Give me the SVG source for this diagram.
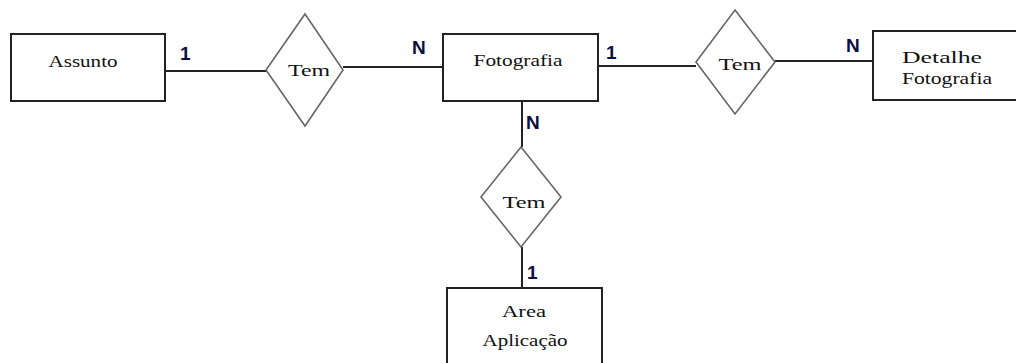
<svg xmlns="http://www.w3.org/2000/svg" width="1016" height="363" viewBox="0 0 1016 363">
<style>
.ent{fill:#fff;stroke:#222;stroke-width:2}
.rel{fill:#fff;stroke:#666;stroke-width:1.6}
.con{stroke:#222;stroke-width:2;fill:none}
.t{font-family:"Liberation Serif","DejaVu Serif",serif;font-size:17px;fill:#111;text-anchor:middle}
.c{font-family:"Liberation Sans",Arial,sans-serif;font-size:19px;font-weight:bold;fill:#0d0d40}
</style>
<rect width="1016" height="363" fill="#fff"/>
<g id="connectors">
<line class="con" x1="165" y1="71" x2="266" y2="71"/>
<line class="con" x1="343" y1="67" x2="443" y2="67"/>
<line class="con" x1="598" y1="66" x2="696" y2="66"/>
<line class="con" x1="775" y1="61" x2="873" y2="61"/>
<line class="con" x1="522" y1="101" x2="522" y2="147"/>
<line class="con" x1="522" y1="247" x2="522" y2="288"/>
<text class="c" x="180" y="60">1</text>
<text class="c" x="412" y="54">N</text>
<text class="c" x="606" y="59">1</text>
<text class="c" x="526" y="129">N</text>
<text class="c" x="846" y="52">N</text>
<text class="c" x="527" y="279">1</text>
</g>
<g id="assunto">
<rect class="ent" x="11" y="34" width="154" height="67"/>
<text class="t" x="83" y="67" textLength="69" lengthAdjust="spacingAndGlyphs">Assunto</text>
</g>
<g id="tem1">
<polygon class="rel" points="305,14 343,70 305,126 266,70"/>
<text class="t" x="309" y="76" textLength="42" lengthAdjust="spacingAndGlyphs">Tem</text>
</g>
<g id="fotografia">
<rect class="ent" x="443" y="34" width="155" height="67"/>
<text class="t" x="518" y="66" textLength="89" lengthAdjust="spacingAndGlyphs">Fotografia</text>
</g>
<g id="tem2">
<polygon class="rel" points="735,10 775,62 735,114 696,62"/>
<text class="t" x="740" y="70" textLength="43" lengthAdjust="spacingAndGlyphs">Tem</text>
</g>
<g id="detalhe">
<rect class="ent" x="873" y="31" width="160" height="69"/>
<text class="t" x="942" y="63" textLength="80" lengthAdjust="spacingAndGlyphs">Detalhe</text>
<text class="t" x="947" y="84" textLength="90" lengthAdjust="spacingAndGlyphs">Fotografia</text>
</g>
<g id="tem3">
<polygon class="rel" points="521,147 561,197 521,247 481,197"/>
<text class="t" x="524" y="208" textLength="43" lengthAdjust="spacingAndGlyphs">Tem</text>
</g>
<g id="area">
<rect class="ent" x="447" y="288" width="155" height="80"/>
<text class="t" x="524" y="317" textLength="44" lengthAdjust="spacingAndGlyphs">Area</text>
<text class="t" x="525" y="346" textLength="85" lengthAdjust="spacingAndGlyphs">Aplicação</text>
</g>
</svg>
